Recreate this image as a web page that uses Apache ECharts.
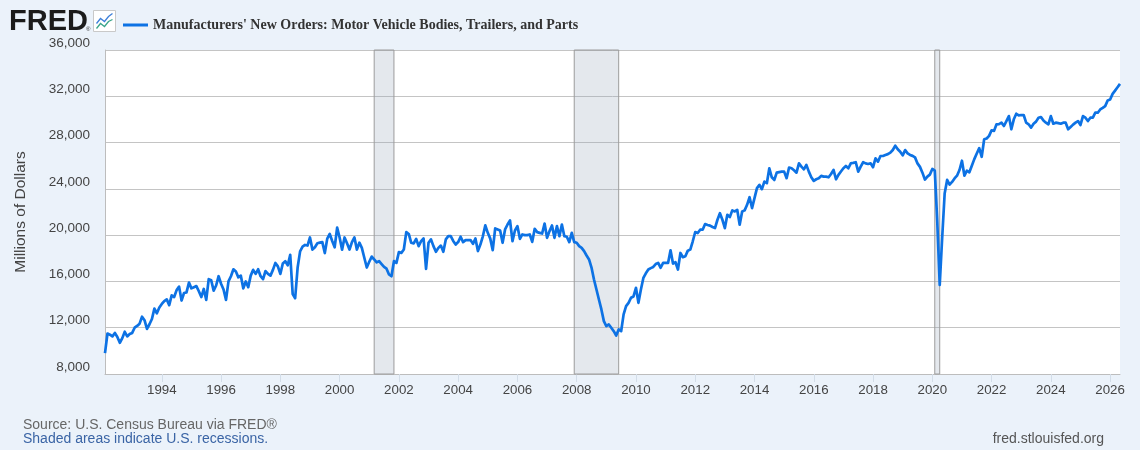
<!DOCTYPE html>
<html>
<head>
<meta charset="utf-8">
<script src="https://cdn.jsdelivr.net/npm/echarts@6/dist/echarts.min.js"></script>
<style>
html,body{margin:0;padding:0;background:#ebf2fa;}
#chart{width:1140px;height:450px;}
</style>
</head>
<body>
<div id="chart"></div>
<script>
const seriesName = "Manufacturers' New Orders: Motor Vehicle Bodies, Trailers, and Parts";
const startYear = 1992;
const startMonth = 2; // first observation: Feb 1992

// Monthly values, millions of dollars
const orders1990s = [
  9800, 11500, 11400, 11250, 11550, 11200, 10700, 11100, 11650, 11250, 11450,          // 1992 Feb-Dec
  11550, 12000, 12150, 12350, 12950, 12650, 11900, 12300, 12750, 13650, 13250, 13750, // 1993
  14050, 14300, 14450, 13950, 14800, 14650, 15250, 15550, 14350, 15000, 15050, 15900, // 1994
  15400, 15500, 15600, 15150, 14650, 15350, 14400, 16200, 16100, 15200, 15650, 16450, // 1995
  15800, 15300, 14400, 16000, 16450, 17050, 16850, 16350, 16500, 15400, 16000, 15500, // 1996
  16500, 17000, 16650, 17050, 16450, 16200, 16900, 16650, 16500, 17000, 17600, 17300, // 1997
  16650, 17550, 17750, 17400, 18300, 14900, 14550, 17200, 18600, 19000, 19150, 19100, // 1998
  19800, 18750, 18950, 19300, 19350, 19400, 18450, 19700, 20100, 19500, 18950, 20650  // 1999
];
const orders2000s = [
  19800, 18750, 19800, 19300, 18750, 19400, 19800, 18750, 19350, 18900, 18050, 17200, // 2000
  17700, 18150, 17900, 17650, 17750, 17500, 17250, 17100, 16600, 16450, 17750, 17600, // 2001
  18530, 18470, 18760, 20260, 20100, 19340, 19280, 19680, 19050, 19480, 19710, 17090, // 2002
  19340, 19630, 19050, 18560, 18900, 19100, 18560, 19630, 19910, 19910, 19500, 19190, // 2003
  19400, 19860, 19400, 19570, 19570, 19570, 19250, 19710, 18620, 19190, 19900, 20840, // 2004
  20200, 19700, 18700, 20580, 20490, 20400, 19340, 20490, 20920, 21270, 19480, 20400, // 2005
  20780, 19680, 20060, 20000, 20000, 20060, 19420, 20550, 20260, 20200, 20140, 21000, // 2006
  19770, 20350, 20840, 19770, 20780, 19910, 20920, 19910, 19860, 19400, 20200, 19400, // 2007
  19340, 19050, 18900, 18620, 18240, 17900, 17200, 16170, 15300, 14440, 13580, 12570, // 2008
  12140, 12280, 12000, 11700, 11330, 11850, 11700, 13150, 13870, 14150, 14590, 14700  // 2009
];
const orders2010s = [
  15450, 14150, 15300, 16300, 16700, 17030, 17150, 17250, 17500, 17600, 17180, 17610, // 2010
  17610, 17600, 18690, 17540, 17660, 17030, 18460, 18090, 18170, 18660, 18750, 19470, // 2011
  20270, 20180, 20470, 20470, 20960, 20880, 20820, 20700, 20610, 21330, 21900, 21330, // 2012
  20610, 21760, 21560, 22140, 22050, 22190, 20900, 22050, 22140, 22620, 23280, 22340, // 2013
  23200, 24060, 24340, 23970, 24630, 24490, 25780, 25000, 24770, 25400, 25450, 25490, // 2014
  25490, 24920, 25840, 25780, 25600, 25400, 26210, 25920, 25690, 26070, 25490, 25000, // 2015
  24690, 24830, 24920, 25120, 25060, 25060, 25000, 25290, 25640, 24830, 25210, 25500, // 2016
  25780, 25980, 25780, 26210, 26250, 26300, 25490, 25920, 26300, 26200, 26150, 26210, // 2017
  25870, 26640, 26350, 26840, 26840, 26930, 27000, 27130, 27360, 27730, 27420, 27210, // 2018
  26900, 27350, 27070, 26930, 26850, 26720, 26200, 25900, 25400, 24800, 25060, 25230  // 2019
];
const orders2020s = [
  25720, 25570, 21200, 15700, 19800, 23600, 24770, 24370, 24600, 24900, 25140, 25630, // 2020
  26430, 25140, 25570, 25430, 26000, 26570, 27060, 27520, 26770, 28290, 28350, 28580, // 2021
  29060, 29010, 29580, 29600, 29720, 29430, 29860, 30290, 29150, 30010, 30490, 30350, // 2022
  30380, 30380, 29720, 29580, 29290, 29630, 29810, 30150, 30210, 29900, 29720, 29580, // 2023
  30290, 29630, 29720, 29680, 29630, 29720, 29720, 29150, 29350, 29550, 29720, 29860, // 2024
  29520, 30290, 30150, 29860, 30150, 30150, 30580, 30580, 30860, 31000, 31150, 31640, // 2025
  31720, 32210, 32490, 32780, 33070                                                    // 2026 Jan-May
];

const recessions = [
  ['2001-03', '2001-11'],
  ['2007-12', '2009-06'],
  ['2020-02', '2020-04']
];

const yMin = 8000, yMax = 36000, yStep = 4000;
const labelYearStep = 2;

// Build the table
const values = orders1990s.concat(orders2000s, orders2010s, orders2020s);
const months = values.map((_, i) => {
  const m = startMonth - 1 + i;
  const y = startYear + Math.floor(m / 12);
  const mm = (m % 12) + 1;
  return y + '-' + (mm < 10 ? '0' + mm : '' + mm);
});
const isLabelMonth = (value) => {
  const y = parseInt(value.slice(0, 4), 10);
  return value.slice(5) === '01' && y % labelYearStep === 0;
};

const chart = echarts.init(document.getElementById('chart'), null, {renderer: 'canvas'});
const sans = '"Liberation Sans", Arial, sans-serif';

chart.setOption({
  animation: false,
  backgroundColor: '#ebf2fa',
  textStyle: {fontFamily: sans},
  grid: {
    left: 105, right: 20, top: 50, bottom: 76,
    show: true, backgroundColor: '#ffffff', borderWidth: 0
  },
  legend: {
    left: 118, top: 13,
    icon: 'rect', itemWidth: 25, itemHeight: 3, itemGap: 10,
    selectedMode: false,
    textStyle: {
      fontFamily: '"Liberation Serif", "Times New Roman", serif',
      fontWeight: 'bold', fontSize: 14, color: '#333333'
    },
    data: [seriesName]
  },
  xAxis: {
    type: 'category',
    boundaryGap: false,
    data: months,
    axisLine: {show: true, lineStyle: {color: '#bdbdbd', width: 1}},
    axisTick: {
      show: true, inside: false, length: 8,
      interval: (idx, value) => isLabelMonth(value),
      lineStyle: {color: '#d3dde8', width: 1}
    },
    axisLabel: {
      interval: (idx, value) => isLabelMonth(value),
      formatter: (value) => value.slice(0, 4),
      color: '#444444', fontSize: 13.3, margin: 10, fontFamily: sans
    },
    splitLine: {show: false}
  },
  yAxis: {
    type: 'value',
    min: yMin, max: yMax, interval: yStep,
    axisLine: {show: true, lineStyle: {color: '#bdbdbd', width: 1}},
    axisTick: {show: false},
    axisLabel: {
      color: '#444444', fontSize: 13.5, margin: 15, fontFamily: sans,
      verticalAlign: 'bottom',
      formatter: (v) => v.toLocaleString('en-US')
    },
    splitLine: {show: true, lineStyle: {color: '#c4c4c4', width: 1}}
  },
  graphic: [
    {
      type: 'text', left: 9, top: 7,
      style: {text: 'FRED', font: 'bold 29px ' + sans, fill: '#1b1b1b'}
    },
    {
      type: 'text', left: 86, top: 26,
      style: {text: '®', font: '6px ' + sans, fill: '#333'}
    },
    {
      type: 'group', left: 93, top: 10,
      children: [
        {type: 'rect', shape: {x: 0, y: 0, width: 22, height: 21}, style: {fill: '#ffffff', stroke: '#c9c9c9', lineWidth: 1}},
        {type: 'polyline', shape: {points: [[3, 13], [7, 8], [11, 11], [15, 6], [19, 3]]}, style: {stroke: '#3d7fd9', lineWidth: 1.3, fill: null}},
        {type: 'polyline', shape: {points: [[3, 18], [7, 13], [11, 16], [15, 11], [19, 9]]}, style: {stroke: '#3aa58a', lineWidth: 1.3, fill: null}}
      ]
    },
    {
      type: 'text', x: 21, y: 212, rotation: Math.PI / 2,
      style: {text: 'Millions of Dollars', font: '15.5px ' + sans, fill: '#444444', textAlign: 'center', textVerticalAlign: 'middle'}
    },
    {
      type: 'text', left: 23, top: 418,
      style: {text: 'Source: U.S. Census Bureau via FRED®', font: '14px ' + sans, fill: '#666666'}
    },
    {
      type: 'text', left: 23, top: 432,
      style: {text: 'Shaded areas indicate U.S. recessions.', font: '14px ' + sans, fill: '#3a64a5'}
    },
    {
      type: 'text', right: 36, top: 432,
      style: {text: 'fred.stlouisfed.org', font: '14px ' + sans, fill: '#555555'}
    }
  ],
  series: [{
    name: seriesName,
    type: 'line',
    data: values,
    showSymbol: false,
    symbol: 'none',
    itemStyle: {color: '#0d72e4'},
    lineStyle: {color: '#0d72e4', width: 2.7, join: 'round'},
    markArea: {
      silent: true,
      itemStyle: {color: 'rgba(150,165,185,0.26)', borderColor: '#9c9c9c', borderWidth: 1},
      data: recessions.map(r => [{xAxis: r[0]}, {xAxis: r[1]}])
    },
    z: 3
  }]
});
</script>
</body>
</html>
